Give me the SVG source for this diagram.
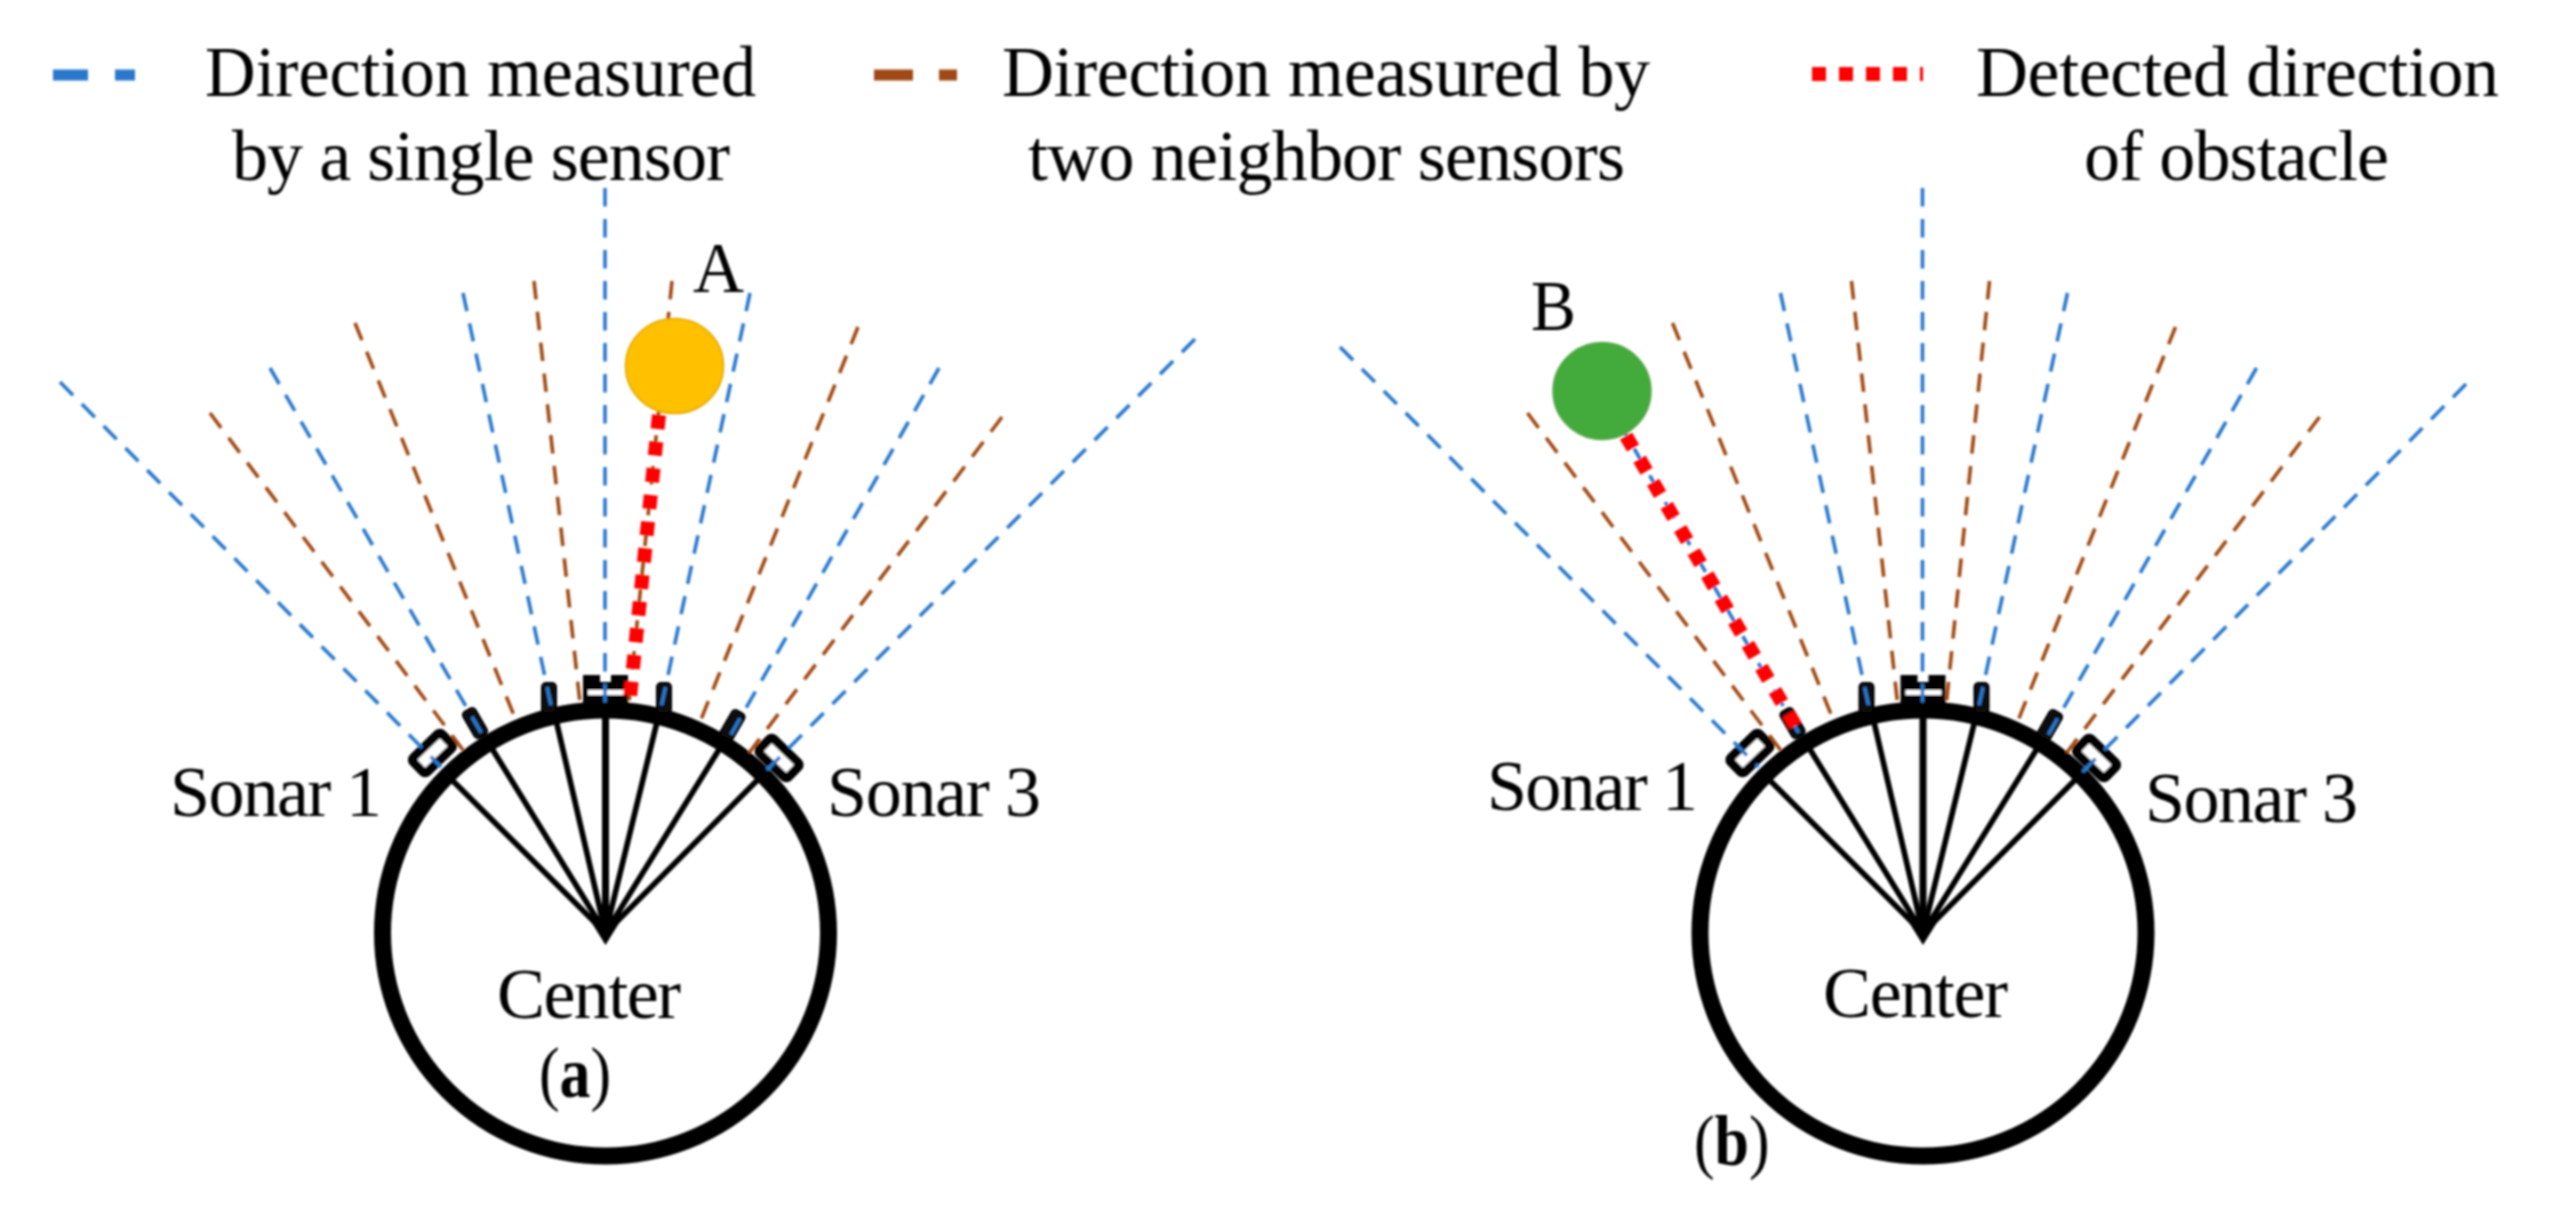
<svg xmlns="http://www.w3.org/2000/svg" xmlns:xlink="http://www.w3.org/1999/xlink" width="2551" height="1208" viewBox="0 0 2551 1208">
<style>
text{font-family:"Liberation Serif","Times New Roman",serif;font-size:72px;fill:#000}
.ray{fill:none;stroke-width:3.6;stroke-dasharray:18.5 12.5}
.blue{stroke:#2a78cc}
.brown{stroke:#a04a12}
.red{fill:none;stroke:#ff0000;stroke-width:14;stroke-dasharray:14 12.8}
.ring{fill:none;stroke:#000;stroke-width:17}
.spoke{stroke:#000;stroke-width:5.6;fill:none}
.big{fill:#fff;stroke:#000;stroke-width:9}
.small{fill:#0b0b0b;stroke:#000;stroke-width:2}
</style>
<defs>
<filter id="soft" x="0" y="0" width="100%" height="100%" filterUnits="userSpaceOnUse"><feGaussianBlur stdDeviation="0.9"/></filter>
<g id="body">
<circle class="ring" cx="605.5" cy="933" r="223"/>
<path class="spoke" d="M605.500 933L452 780M605.500 933L491 747M605.500 933L556 720M605.500 933L657.500 720M605.500 933L720 748M605.500 933L757.500 780"/>
<path d="M605.500 933V710" fill="none" stroke="#000" stroke-width="7"/>
<path d="M605.500 945L590 920H621Z" fill="#000"/>
<rect class="big" x="-20" y="-10" width="40" height="20" rx="3" transform="translate(432.500 753) rotate(-44)"/>
<rect class="big" x="-20" y="-10" width="40" height="20" rx="3" transform="translate(779 758) rotate(44)"/>
<rect class="small" x="-7" y="-15" width="14" height="30" rx="4" transform="translate(475 723) rotate(-30)"/>
<rect class="small" x="-7" y="-15" width="14" height="30" rx="4" transform="translate(549 698)"/>
<rect class="small" x="-7" y="-15" width="14" height="30" rx="4" transform="translate(664 698)"/>
<rect class="small" x="-7" y="-15" width="14" height="30" rx="4" transform="translate(732.500 725) rotate(30)"/>
<path d="M583 675H600V682H611V675H628V704H583Z" fill="#000"/>
<rect x="588" y="690" width="36" height="5" fill="#fff"/>
</g>
<g id="rays">
<path class="ray brown" d="M210 413L463 750"/>
<path class="ray blue" d="M270 368L482.500 735"/>
<path class="ray brown" d="M355 323L515 718"/>
<path class="ray blue" d="M463 293L552 710"/>
<path class="ray brown" d="M534 281L580 703"/>
<path class="ray blue" d="M605 188V705"/>
<path class="ray brown" d="M672 281L629 702"/>
<path class="ray blue" d="M750 293L661 708"/>
<path class="ray brown" d="M858 327L700 722"/>
<path class="ray blue" d="M939 368L729 738"/>
<path class="ray brown" d="M1002 417L749 753"/>
</g>
</defs>
<rect width="2551" height="1208" fill="#fff"/>
<g filter="url(#soft)">
<g id="sensor-body-a"><use href="#body"/></g>
<g id="sensor-body-b"><use href="#body" transform="translate(1317.500 0)"/></g>
<g id="connectors">
<use href="#rays"/>
<path class="ray blue" d="M60 382L441 767"/>
<path class="ray blue" d="M1195 339L765 772"/>
<use href="#rays" transform="translate(1317.500 0)"/>
<path class="ray blue" d="M1340 347L1758.500 767"/>
<path class="ray blue" d="M2466 384L2082.500 772"/>
<path class="red" d="M659 415L629.500 702"/>
<path class="red" d="M1626 436L1798 730"/>
</g>
<g id="legend-blue"><path d="M53 75H135" fill="none" stroke="#2a78cc" stroke-width="11" stroke-dasharray="35 27 20"/><text x="205" y="96" textLength="551" lengthAdjust="spacingAndGlyphs">Direction measured</text><text x="232" y="180" textLength="498">by a single sensor</text></g>
<g id="legend-brown"><path d="M874 75H957" fill="none" stroke="#a04a12" stroke-width="11" stroke-dasharray="39 26 18"/><text x="1002" y="96" textLength="648">Direction measured by</text><text x="1028" y="180" textLength="597">two neighbor sensors</text></g>
<g id="legend-red"><path d="M1812 74H1923" fill="none" stroke="#ff0000" stroke-width="14" stroke-dasharray="14 13"/><text x="1976" y="96" textLength="523">Detected direction</text><text x="2084" y="180" textLength="305">of obstacle</text></g>
<g id="obstacle-a"><ellipse cx="674.500" cy="366" rx="49" ry="47.500" fill="#ffc000" stroke="#e0a800" stroke-width="1.500"/><text x="693" y="292" textLength="51" lengthAdjust="spacingAndGlyphs">A</text></g>
<g id="obstacle-b"><ellipse cx="1602" cy="391" rx="49" ry="48.500" fill="#43ab3a" stroke="#5aa850" stroke-width="1.500"/><text x="1531" y="330" textLength="45" lengthAdjust="spacingAndGlyphs">B</text></g>
<g id="sonar1-a"><text x="170" y="816" textLength="212">Sonar 1</text></g>
<g id="sonar3-a"><text x="827" y="816" textLength="214">Sonar 3</text></g>
<g id="center-a"><text x="497" y="1018" textLength="184">Center</text></g>
<g id="caption-a"><text transform="translate(539 1097) scale(.86 1)">(<tspan font-weight="bold">a</tspan>)</text></g>
<g id="sonar1-b"><text x="1487" y="810" textLength="211">Sonar 1</text></g>
<g id="sonar3-b"><text x="2145" y="822" textLength="213">Sonar 3</text></g>
<g id="center-b"><text x="1823" y="1017" textLength="185">Center</text></g>
<g id="caption-b"><text transform="translate(1694 1165) scale(.86 1)">(<tspan font-weight="bold">b</tspan>)</text></g>
</g>
</svg>
